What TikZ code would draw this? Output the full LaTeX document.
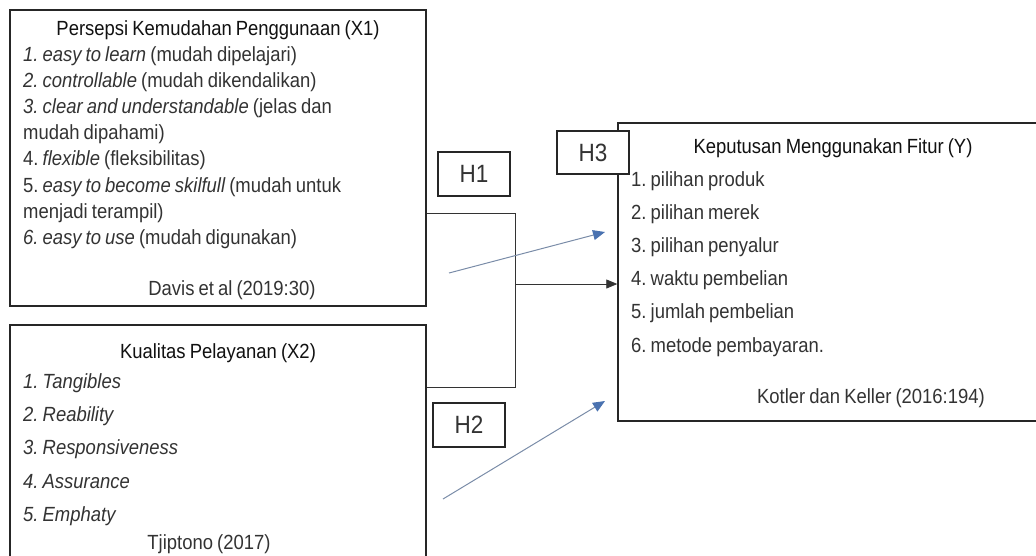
\documentclass[tikz,border=0pt]{standalone}
\usepackage{fontspec}
\setmainfont{Liberation Sans}[FakeStretch=0.9, WordSpace=0.8]
\usetikzlibrary{arrows.meta}
\definecolor{txt}{HTML}{333333}
\definecolor{ttl}{HTML}{111111}
\definecolor{bline}{HTML}{7A8CA8}
\definecolor{bhead}{HTML}{4A72B0}
\frenchspacing
\begin{document}
\begin{tikzpicture}[x=1pt,y=-1pt,
  box/.style={draw=black!85, line width=1.4pt, fill=white, inner sep=0pt},
  hbox/.style={draw=black!85, line width=1.3pt, fill=white, inner sep=0pt,
     minimum width=72pt, minimum height=44pt, font=\fontsize{25}{28}\selectfont, text=txt},
  item/.style={anchor=base west, inner sep=0pt, text=txt, font=\fontsize{20.5}{23}\selectfont},
  title/.style={anchor=base, inner sep=0pt, text=ttl, font=\fontsize{20.5}{23}\selectfont},
  src/.style={anchor=base, inner sep=0pt, text=txt, font=\fontsize{20.5}{23}\selectfont},
  conn/.style={draw=black!80, line width=0.8pt},
  barrow/.style={draw=bline, line width=1pt, -{Triangle[length=12pt,width=10pt,color=bhead]}}
]
\useasboundingbox (0,0) rectangle (1036,555);
\clip (0,0) rectangle (1036,555);

% boxes
\node[box, minimum width=416pt, minimum height=296pt] (X1) at (218,158) {};
\node[box, minimum width=416pt, minimum height=250pt] (X2) at (218,450) {};
\node[box, minimum width=440pt, minimum height=298pt] (Y) at (838,272) {};

% X1 text
\node[title] (x1t) at (218,35) {Persepsi Kemudahan Penggunaan (X1)};
\node[item] (x1a) at (23,61) {\itshape 1. easy to learn \upshape(mudah dipelajari)};
\node[item] (x1b) at (23,87) {\itshape 2. controllable \upshape(mudah dikendalikan)};
\node[item] (x1c) at (23,113) {\itshape 3. clear and understandable \upshape(jelas dan};
\node[item] (x1d) at (23,139) {mudah dipahami)};
\node[item] (x1e) at (23,165) {4. \itshape flexible \upshape(fleksibilitas)};
\node[item] (x1f) at (23,192) {5. \itshape easy to become skilfull \upshape(mudah untuk};
\node[item] (x1g) at (23,218) {menjadi terampil)};
\node[item] (x1h) at (23,244) {\itshape 6. easy to use \upshape(mudah digunakan)};
\node[src] (x1s) at (232,295) {Davis et al (2019:30)};

% X2 text
\node[title] (x2t) at (218,358) {Kualitas Pelayanan (X2)};
\node[item] (x2a) at (23,388) {\itshape 1. Tangibles};
\node[item] (x2b) at (23,421) {\itshape 2. Reability};
\node[item] (x2c) at (23,454) {\itshape 3. Responsiveness};
\node[item] (x2d) at (23,488) {\itshape 4. Assurance};
\node[item] (x2e) at (23,521) {\itshape 5. Emphaty};
\node[src] (x2s) at (209,549) {Tjiptono (2017)};

% Y text
\node[title] (yt) at (833,153) {Keputusan Menggunakan Fitur (Y)};
\node[item] (ya) at (631,186) {1. pilihan produk};
\node[item] (yb) at (631,219) {2. pilihan merek};
\node[item] (yc) at (631,252) {3. pilihan penyalur};
\node[item] (yd) at (631,285) {4. waktu pembelian};
\node[item] (ye) at (631,318) {5. jumlah pembelian};
\node[item] (yf) at (631,352) {6. metode pembayaran.};
\node[src] (ys) at (871,403) {Kotler dan Keller (2016:194)};

% hypothesis labels
\node[hbox] (H1) at (474,174) {H1};
\node[hbox] (H2) at (469,425) {H2};
\node[hbox, minimum height=43pt] (H3) at (593,152.5) {H3};

% connectors
\coordinate (j1) at (515,213);
\coordinate (j2) at (515,387);
\coordinate (jm) at (515,284);
\draw[conn] (X1.east |- j1) -- (j1) -- (j2) -- (X2.east |- j2);
\draw[conn, -{Triangle[length=11pt,width=9pt]}] (jm) -- (Y.west |- jm);

\coordinate (a1s) at (449,273);
\coordinate (a1e) at (605,232);
\coordinate (a2s) at (443,499);
\coordinate (a2e) at (605,401);
\draw[barrow] (a1s) -- (a1e);
\draw[barrow] (a2s) -- (a2e);
\end{tikzpicture}
\end{document}
